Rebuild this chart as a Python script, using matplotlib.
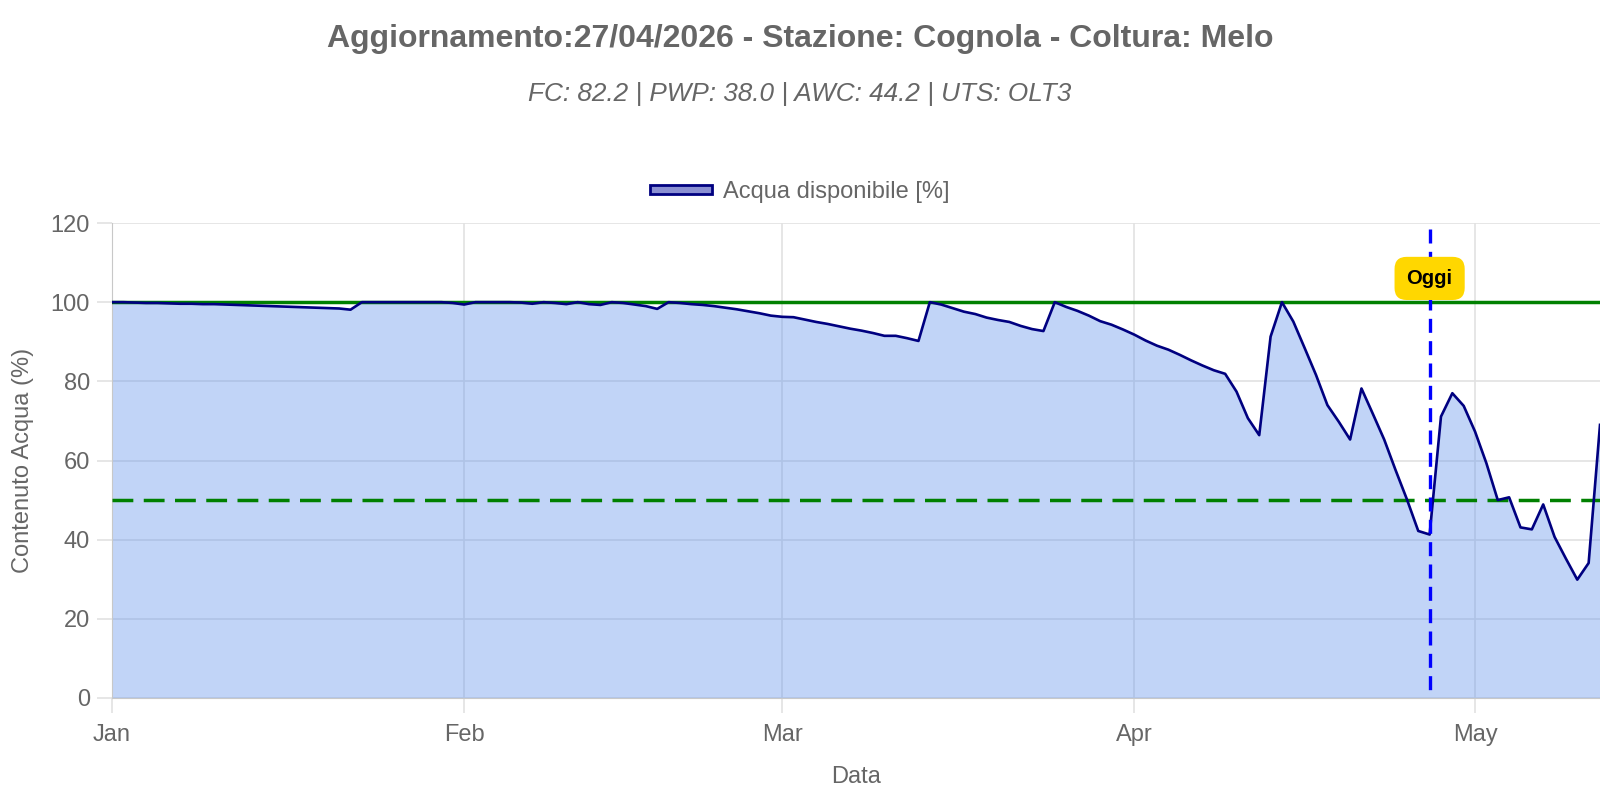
import matplotlib
matplotlib.use("Agg")
import matplotlib.pyplot as plt
import matplotlib.dates as mdates
from matplotlib.patches import Patch
import pandas as pd

plt.rcParams['font.family'] = ['Liberation Sans', 'DejaVu Sans']

# daily available water (%) from 1 Jan 2026
acqua = [100, 100, 99.9, 99.8, 99.8, 99.7, 99.6, 99.6, 99.5, 99.5,
         99.4, 99.3, 99.2, 99.1, 99.0, 98.9, 98.8, 98.7, 98.6, 98.5,
         98.4, 98.1, 100, 100, 100, 100, 100, 100, 100, 100,
         99.8, 99.4, 100, 100, 100, 100, 99.9, 99.6, 100, 99.8,
         99.5, 100, 99.5, 99.3, 100, 99.8, 99.4, 99.0, 98.3, 100,
         99.8, 99.5, 99.3, 99.0, 98.6, 98.2, 97.7, 97.2, 96.6, 96.3,
         96.2, 95.6, 95.0, 94.5, 93.9, 93.3, 92.8, 92.2, 91.5, 91.5,
         90.9, 90.2, 100, 99.4, 98.5, 97.6, 97.0, 96.1, 95.5, 95.0,
         94.0, 93.2, 92.7, 100, 98.8, 97.8, 96.6, 95.2, 94.3, 93.1,
         91.8, 90.3, 89.0, 88.0, 86.7, 85.3, 84.0, 82.8, 81.9, 77.4,
         70.7, 66.4, 91.3, 100, 95.1, 88.4, 81.6, 74.0, 69.8, 65.3,
         78.2, 71.8, 65.3, 57.6, 50.2, 42.2, 41.3, 71.1, 77.0, 73.8,
         67.3, 59.3, 50.0, 50.7, 43.1, 42.6, 48.9, 40.7, 35.2, 29.9,
         34.1, 69.0]
date = pd.date_range('2026-01-01', periods=len(acqua), freq='D')
oggi = pd.Timestamp('2026-04-27')
fc_line = 100
soglia = 50

titolo = "Aggiornamento:27/04/2026 - Stazione: Cognola - Coltura: Melo"
sottotitolo = "FC: 82.2 | PWP: 38.0 | AWC: 44.2 | UTS: OLT3"

grigio = '#666666'
griglia = '#e2e2e2'

fig = plt.figure(figsize=(16, 8), dpi=100)
ax = fig.add_axes([0.07, 0.1275, 0.93, 0.59375])

ax.fill_between(date, acqua, 0, color='cornflowerblue', alpha=0.4, lw=0, zorder=1)
ax.plot(date, acqua, color='navy', lw=1.9, zorder=4)
ax.axhline(fc_line, color='green', lw=2.5, zorder=3)
ax.axhline(soglia, color='green', lw=2.5, dashes=(6.0, 3.0), zorder=3)
# "today" marker, drawn top-down so the dash pattern starts at the top
ax.plot([oggi, oggi], [118.5, 0], color='blue', lw=2.4, dashes=(4.2, 2.5), zorder=5)
ax.text(oggi, 106, 'Oggi', ha='center', va='center', fontsize=14.5,
        fontweight='bold', color='black', zorder=6,
        bbox=dict(boxstyle='round,pad=0.6,rounding_size=0.6', fc='gold', ec='none'))

ax.set_xlim(date[0], date[-1])
ax.set_ylim(0, 120)
ax.set_yticks(range(0, 121, 20))
ax.xaxis.set_major_locator(mdates.MonthLocator())
ax.xaxis.set_major_formatter(mdates.DateFormatter('%b'))
ax.grid(True, color=griglia, lw=1.2, zorder=0)
ax.set_axisbelow(True)
ax.tick_params(axis='both', colors=griglia, length=11, width=1.2, labelsize=17, labelcolor=grigio)
ax.tick_params(axis='y', pad=5)
ax.tick_params(axis='x', pad=8)
for s in ['top', 'right']:
    ax.spines[s].set_visible(False)
ax.spines['left'].set_color('#c8c8c8')
ax.spines['bottom'].set_color('#c8c8c8')

ax.set_xlabel('Data', fontsize=17, color=grigio, labelpad=14)
ax.set_ylabel('Contenuto Acqua (%)', fontsize=17, color=grigio, labelpad=12)

fig.text(0.5, 1 - 39 / 800, titolo, ha='center', va='center', fontsize=23,
         fontweight='bold', color=grigio)
fig.text(0.5, 1 - 94 / 800, sottotitolo, ha='center', va='center', fontsize=18.8,
         style='italic', color=grigio)

handle = Patch(facecolor='#8a8fd2', edgecolor='navy', lw=2)
fig.legend([handle], ['Acqua disponibile [%]'], loc='center', bbox_to_anchor=(0.5, 1 - 192 / 800),
           frameon=False, fontsize=17, labelcolor=grigio, handlelength=2.6,
           handleheight=0.18, handletextpad=0.5)

fig.savefig('out.png', dpi=100)
